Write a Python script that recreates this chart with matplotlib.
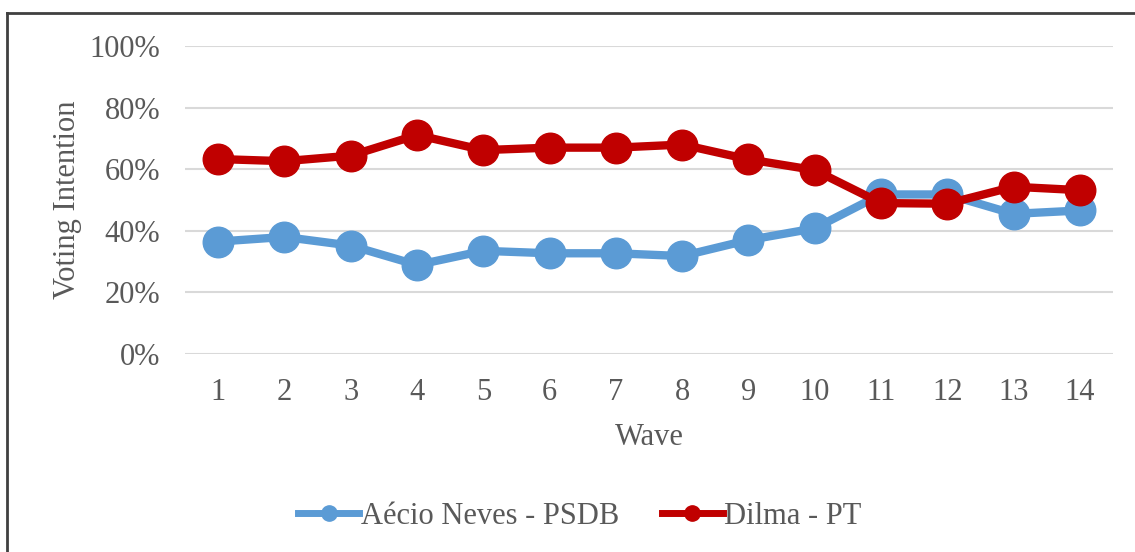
import matplotlib
matplotlib.use("Agg")
import matplotlib.pyplot as plt
from matplotlib.lines import Line2D
from matplotlib.ticker import FuncFormatter

plt.rcParams['font.family'] = ['Liberation Serif', 'DejaVu Serif']

waves = list(range(1, 15))
aecio = [36.5, 38.0, 35.2, 28.9, 33.5, 32.7, 32.7, 31.8, 37.0, 40.8, 51.8, 51.8, 45.5, 46.6]
dilma = [63.3, 62.6, 64.4, 71.1, 66.2, 67.0, 67.0, 68.0, 63.2, 59.7, 49.0, 48.8, 54.3, 53.2]

blue = '#5b9bd5'
red = '#c00000'
txt = '#595959'
fs = 22

fig = plt.figure(figsize=(11.35, 5.52), dpi=100)
ax = fig.add_axes([185 / 1135, 1 - 354 / 552, 928 / 1135, 308 / 552])

ax.plot(waves, aecio, color=blue, lw=6, marker='o', ms=22,
        label='Aécio Neves - PSDB', solid_capstyle='round')
ax.plot(waves, dilma, color=red, lw=6, marker='o', ms=22,
        label='Dilma - PT', solid_capstyle='round')

ax.set_xlim(0.5, 14.5)
ax.set_ylim(0, 100)
ax.set_xticks(waves)
ax.set_yticks(range(0, 101, 20))
ax.yaxis.set_major_formatter(FuncFormatter(lambda v, p: f'{v:.0f}%'))
ax.grid(axis='y', color='#d9d9d9', lw=1.5)
ax.set_axisbelow(True)
for s in ax.spines.values():
    s.set_visible(False)
ax.tick_params(length=0, labelsize=fs, labelcolor=txt)
ax.tick_params(axis='y', pad=18)
ax.tick_params(axis='x', pad=17)

ax.set_xlabel('Wave', fontsize=fs, color=txt, labelpad=12)
ax.set_ylabel('Voting Intention', fontsize=fs, color=txt, labelpad=5)

handles = [Line2D([], [], color=blue, lw=5, marker='o', ms=11),
           Line2D([], [], color=red, lw=5, marker='o', ms=11)]
leg = ax.legend(handles, ['Aécio Neves - PSDB', 'Dilma - PT'],
                loc='center', bbox_to_anchor=(580 / 1135, 1 - 516 / 552),
                bbox_transform=fig.transFigure, ncol=2, frameon=False,
                fontsize=fs, handlelength=2.0, handletextpad=0.05,
                columnspacing=1.4)
for t in leg.get_texts():
    t.set_color(txt)

# outer frame (top and left edges only)
fig.add_artist(Line2D([7 / 1135, 1], [1 - 13 / 552, 1 - 13 / 552],
                      transform=fig.transFigure, color='#404040', lw=2))
fig.add_artist(Line2D([7 / 1135, 7 / 1135], [0, 1 - 13 / 552],
                      transform=fig.transFigure, color='#404040', lw=2))

fig.savefig('out.png', dpi=100)
